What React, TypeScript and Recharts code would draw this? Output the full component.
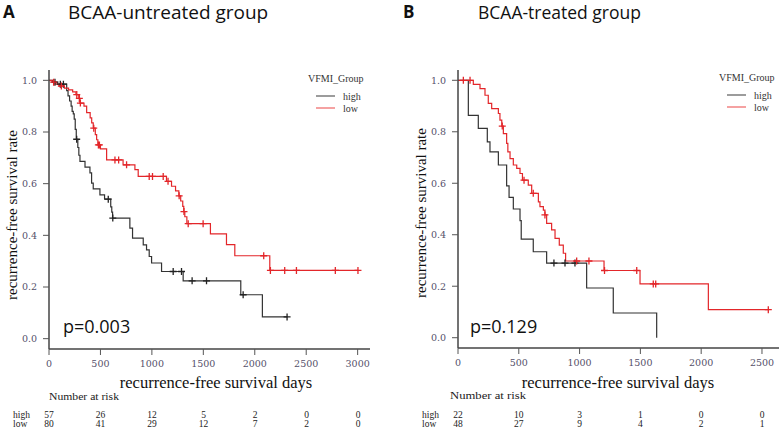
import { ComposedChart, Line, Scatter, XAxis, YAxis } from 'recharts';

// panel A: BCAA-untreated
const highTimesA = [0, 40, 80, 172, 185, 200, 215, 225, 236, 245, 255, 265, 280, 290, 301, 350, 398, 414, 430, 495, 540, 600, 610, 618, 786, 812, 916, 948, 974, 997, 1094, 1304, 1864, 2074, 2314];
const highSurvA = [1, 0.993, 0.985, 0.96, 0.94, 0.92, 0.9, 0.88, 0.87, 0.85, 0.81, 0.772, 0.74, 0.71, 0.686, 0.664, 0.642, 0.602, 0.58, 0.557, 0.54, 0.51, 0.49, 0.467, 0.428, 0.389, 0.363, 0.344, 0.318, 0.293, 0.26, 0.224, 0.17, 0.084, 0.084];
const highCensTimesA = [58, 110, 140, 269, 576, 620, 1207, 1288, 1391, 1531, 1887, 2314];
const highCensSurvA = [0.993, 0.985, 0.985, 0.772, 0.54, 0.467, 0.26, 0.26, 0.224, 0.224, 0.17, 0.084];

const lowTimesA = [0, 30, 60, 100, 150, 190, 230, 262, 290, 300, 340, 366, 400, 415, 430, 450, 463, 475, 500, 560, 720, 835, 867, 1142, 1191, 1230, 1262, 1280, 1300, 1310, 1320, 1340, 1569, 1725, 1806, 2146, 3003];
const lowSurvA = [1, 0.993, 0.985, 0.978, 0.97, 0.963, 0.955, 0.945, 0.93, 0.912, 0.9, 0.875, 0.855, 0.835, 0.815, 0.79, 0.77, 0.75, 0.735, 0.692, 0.673, 0.654, 0.628, 0.609, 0.59, 0.572, 0.553, 0.533, 0.512, 0.492, 0.472, 0.445, 0.406, 0.364, 0.321, 0.264, 0.264];
const lowCensTimesA = [45, 120, 270, 295, 305, 435, 480, 490, 641, 677, 754, 974, 1006, 1110, 1157, 1265, 1312, 1353, 1498, 2087, 2152, 2291, 2405, 2783, 3003];
const lowCensSurvA = [0.993, 0.978, 0.945, 0.93, 0.912, 0.815, 0.75, 0.75, 0.692, 0.692, 0.673, 0.628, 0.628, 0.628, 0.609, 0.553, 0.492, 0.445, 0.445, 0.321, 0.264, 0.264, 0.264, 0.264, 0.264];

// panel B: BCAA-treated
const highTimesB = [0, 85, 167, 241, 263, 332, 400, 420, 455, 510, 520, 619, 729, 1058, 1277, 1634];
const highSurvB = [1, 0.864, 0.813, 0.761, 0.722, 0.671, 0.59, 0.545, 0.5, 0.455, 0.383, 0.334, 0.29, 0.193, 0.096, 0];
const highCensTimesB = [789, 880, 962];
const highCensSurvB = [0.29, 0.29, 0.29];

const lowTimesB = [0, 126, 181, 222, 249, 277, 332, 345, 360, 373, 400, 410, 428, 455, 483, 510, 530, 578, 606, 661, 674, 702, 715, 729, 770, 798, 833, 866, 885, 1201, 1497, 2059, 2552];
const lowSurvB = [1, 0.984, 0.968, 0.942, 0.91, 0.89, 0.871, 0.845, 0.822, 0.793, 0.755, 0.722, 0.696, 0.671, 0.658, 0.638, 0.612, 0.593, 0.561, 0.528, 0.509, 0.496, 0.477, 0.444, 0.419, 0.386, 0.36, 0.328, 0.298, 0.261, 0.209, 0.109, 0.109];
const lowCensTimesB = [44, 99, 364, 543, 619, 715, 976, 1077, 1205, 1470, 1606, 1626, 2552];
const lowCensSurvB = [1, 1, 0.822, 0.612, 0.561, 0.477, 0.298, 0.298, 0.261, 0.261, 0.209, 0.209, 0.109];

// number at risk
const riskTimesA = [0, 500, 1000, 1500, 2000, 2500, 3000];
const riskHighA = [57, 26, 12, 5, 2, 0, 0];
const riskLowA = [80, 41, 29, 12, 7, 2, 0];
const riskTimesB = [0, 500, 1000, 1500, 2000, 2500];
const riskHighB = [22, 10, 3, 1, 0, 0];
const riskLowB = [48, 27, 9, 4, 2, 1];

const yTicks = [0, 0.2, 0.4, 0.6, 0.8, 1];

const zip = (t: number[], s: number[]) => t.map((v, i) => ({ t: v, s: s[i] }));

const BLACK = '#333';
const RED = '#e3262a';
const SERIF = '"Liberation Serif", "Times New Roman", serif';
const TICKFONT = '"DejaVu Serif", serif';
const SANS = '"Open Sans", "Noto Sans", sans-serif';

const Cross = (color: string) => (props: any) => {
  const { cx, cy } = props;
  if (cx == null || cy == null) return <g />;
  return (
    <path
      d={`M${cx - 3.5},${cy}H${cx + 3.5}M${cx},${cy - 3.5}V${cy + 3.5}`}
      stroke={color}
      strokeWidth={1.3}
      fill="none"
    />
  );
};

type PanelProps = {
  left: number;
  width: number;
  yAxisWidth: number;
  rightMargin: number;
  xMax: number;
  xTicks: number[];
  high: { t: number; s: number }[];
  low: { t: number; s: number }[];
  highCens: { t: number; s: number }[];
  lowCens: { t: number; s: number }[];
  bottom: number;
};

const Panel = ({ left, width, yAxisWidth, rightMargin, xMax, xTicks, high, low, highCens, lowCens, bottom }: PanelProps) => (
  <div style={{ position: 'absolute', left, top: 0 }}>
    <ComposedChart width={width} height={434} margin={{ top: 70, right: rightMargin, bottom, left: 0 }}>
      <XAxis
        type="number"
        dataKey="t"
        domain={[0, xMax]}
        ticks={xTicks}
        allowDataOverflow
        height={20}
        tickSize={6}
        tickMargin={5}
        axisLine={{ stroke: '#444', strokeWidth: 1.5 }}
        tickLine={{ stroke: '#555' }}
        tick={{ fontFamily: TICKFONT, fontSize: 9.5, fill: '#55506a' }}
      />
      <YAxis
        type="number"
        dataKey="s"
        domain={[-0.04, 1.04]}
        ticks={yTicks}
        allowDataOverflow
        width={yAxisWidth}
        tickSize={6}
        tickMargin={6}
        tickFormatter={(v: number) => v.toFixed(1)}
        axisLine={{ stroke: '#444', strokeWidth: 1.5 }}
        tickLine={{ stroke: '#555' }}
        tick={{ fontFamily: TICKFONT, fontSize: 9.5, fill: '#55506a' }}
      />
      <Line data={high} dataKey="s" type="stepAfter" stroke={BLACK} strokeWidth={1.2} dot={false} isAnimationActive={false} />
      <Line data={low} dataKey="s" type="stepAfter" stroke={RED} strokeWidth={1.2} dot={false} isAnimationActive={false} />
      <Scatter data={highCens} dataKey="s" shape={Cross('#222')} isAnimationActive={false} />
      <Scatter data={lowCens} dataKey="s" shape={Cross(RED)} isAnimationActive={false} />
    </ComposedChart>
  </div>
);

const RiskTable = ({ x0, pxPerDay, labelX, times, high, low, yHead, headX, headLen, yHigh, yLow }: any) => (
  <g fontFamily={SERIF} fontSize={9.5} fill="#222">
    <text x={headX} y={yHead} fontSize={10.5} textLength={headLen} lengthAdjust="spacingAndGlyphs">Number at risk</text>
    <text x={labelX} y={yHigh}>high</text>
    <text x={labelX} y={yLow}>low</text>
    {times.map((t: number, i: number) => (
      <g key={t}>
        <text x={x0 + t * pxPerDay} y={yHigh} textAnchor="middle">{high[i]}</text>
        <text x={x0 + t * pxPerDay} y={yLow} textAnchor="middle">{low[i]}</text>
      </g>
    ))}
  </g>
);

const LegendBox = ({ x, y }: { x: number; y: number }) => (
  <g fontFamily={SERIF} fontSize={10} fill="#333">
    <text x={x - 8} y={y}>VFMI_Group</text>
    <line x1={x} x2={x + 19} y1={y + 14} y2={y + 14} stroke="#666" strokeWidth={1.3} />
    <text x={x + 27} y={y + 18}>high</text>
    <line x1={x} x2={x + 19} y1={y + 26} y2={y + 26} stroke="#f07070" strokeWidth={1.3} />
    <text x={x + 27} y={y + 30}>low</text>
  </g>
);

export default function App() {
  return (
    <div style={{ position: 'absolute', left: 0, top: 0, width: 783, height: 434, background: '#fff', overflow: 'hidden' }}>
      <Panel
        left={0}
        width={392}
        yAxisWidth={49}
        rightMargin={22}
        xMax={3120}
        xTicks={riskTimesA}
        high={zip(highTimesA, highSurvA)}
        low={zip(lowTimesA, lowSurvA)}
        highCens={zip(highCensTimesA, highCensSurvA)}
        lowCens={zip(lowCensTimesA, lowCensSurvA)}
        bottom={65}
      />
      <Panel
        left={392}
        width={391}
        yAxisWidth={66}
        rightMargin={4}
        xMax={2640}
        xTicks={riskTimesB}
        high={zip(highTimesB, highSurvB)}
        low={zip(lowTimesB, lowSurvB)}
        highCens={zip(highCensTimesB, highCensSurvB)}
        lowCens={zip(lowCensTimesB, lowCensSurvB)}
        bottom={66}
      />
      <svg width={783} height={434} style={{ position: 'absolute', left: 0, top: 0, pointerEvents: 'none' }}>
        {/* panel A text */}
        <text x={3} y={18} fontFamily={SANS} fontSize={17} fontWeight={700} fill="#111">A</text>
        <text x={68} y={19} fontFamily={SANS} fontSize={19} fill="#111">BCAA-untreated group</text>
        <text x={63} y={333} fontFamily={SANS} fontSize={18} fill="#111">p=0.003</text>
        <text x={216} y={388} fontFamily={SERIF} fontSize={16.5} textAnchor="middle" fill="#111">recurrence-free survival days</text>
        <text transform="translate(17,215) rotate(-90)" fontFamily={SERIF} fontSize={15} textAnchor="middle" fill="#111">recurrence-free survival rate</text>
        <LegendBox x={316} y={82} />
        <RiskTable x0={49} pxPerDay={0.103} labelX={13} headX={49} headLen={70} times={riskTimesA} high={riskHighA} low={riskLowA} yHead={400} yHigh={417.5} yLow={427} />

        {/* panel B text */}
        <text x={403} y={18} fontFamily={SANS} fontSize={17} fontWeight={700} fill="#111">B</text>
        <text x={478} y={19} fontFamily={SANS} fontSize={17.5} fill="#111">BCAA-treated group</text>
        <text x={470} y={333} fontFamily={SANS} fontSize={18} fill="#111">p=0.129</text>
        <text x={618} y={388} fontFamily={SERIF} fontSize={16.5} textAnchor="middle" fill="#111">recurrence-free survival days</text>
        <text transform="translate(426,213) rotate(-90)" fontFamily={SERIF} fontSize={15} textAnchor="middle" fill="#111">recurrence-free survival rate</text>
        <LegendBox x={727} y={81} />
        <RiskTable x0={458} pxPerDay={0.1216} labelX={422} headX={450} headLen={76} times={riskTimesB} high={riskHighB} low={riskLowB} yHead={399} yHigh={417.5} yLow={427} />
      </svg>
    </div>
  );
}
